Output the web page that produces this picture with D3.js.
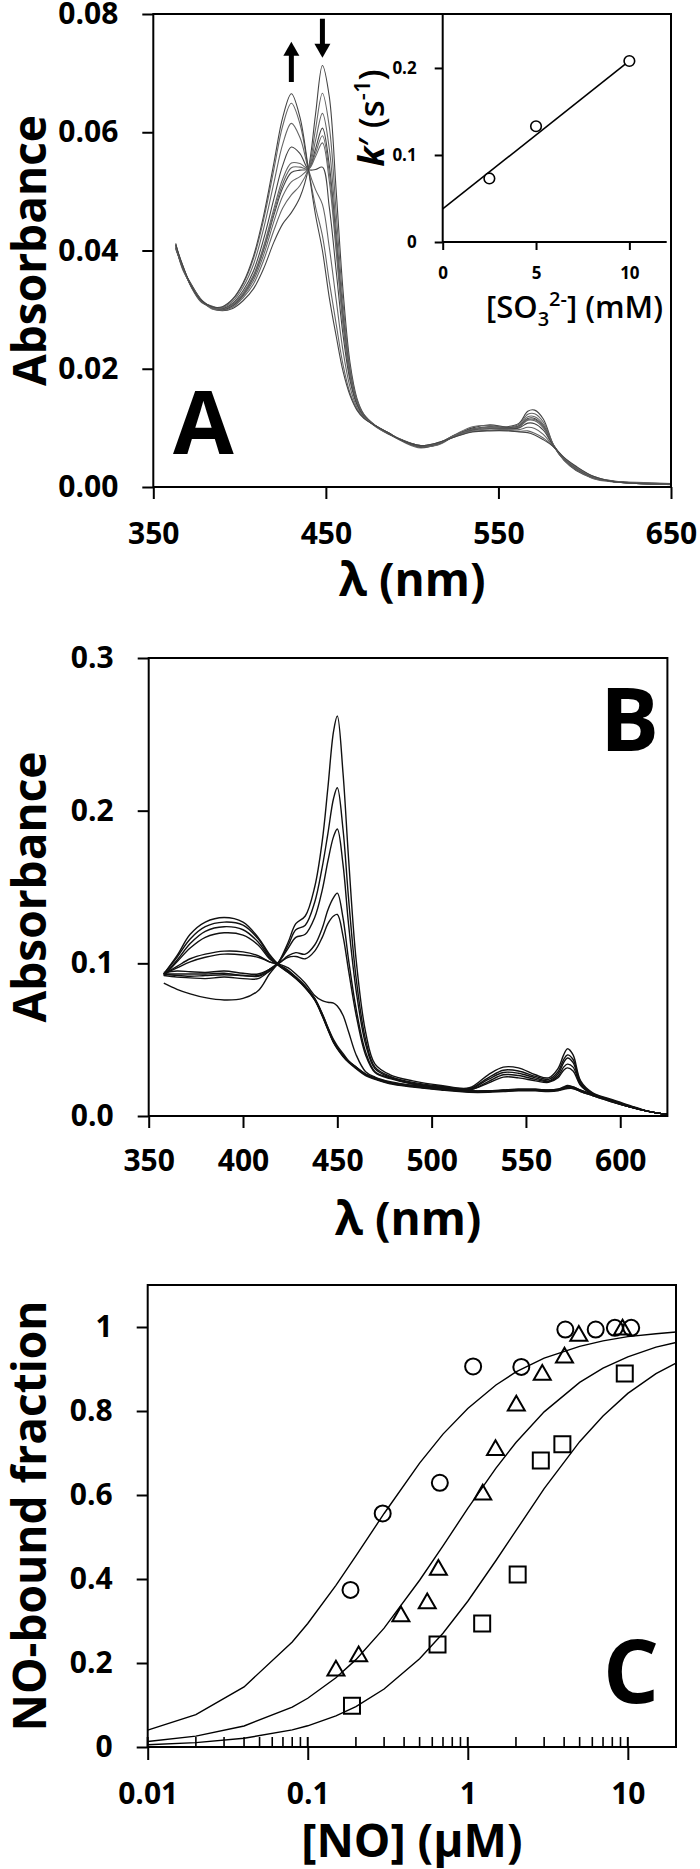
<!DOCTYPE html>
<html><head><meta charset="utf-8">
<script src="https://cdn.jsdelivr.net/npm/d3@7"></script>
<style>
body{margin:0;background:#fff;}
svg{display:block;font-family:"Open Sans",sans-serif;}
</style></head><body>
<svg id="c" width="700" height="1869"></svg>
<script>
// ---------- Panel A data (absorbance x 1000) ----------
const A_wavelength = [363,367,372,378,384,390,396,402,408,414,420,425,430,435,440,444,448,452,456,460,464,468,472,478,486,495,505,515,525,535,545,555,562,567,571,576,582,588,595,605,615,630,650];
const A_spec0 = [40.5,37,34,31.5,30.2,29.8,30.2,31.5,33.5,37,41.5,44.5,46.4,49,54,63,71.3,66,50,33,21,15,12.3,10.5,9,7.8,6.8,7.2,8.8,10,10.5,10.2,10.8,12.8,13,11.5,7,4.5,2.8,1.5,1,0.7,0.5];
const A_spec1 = [40.2,37.3,33.8,31.2,30.5,29.9,30.4,32,34.3,38.4,43.5,47.2,49.4,51,53.9,60.5,66.6,60.9,46.3,31,20.2,14.7,12.3,10.6,9.1,7.6,6.6,7.3,8.9,10.2,10.4,10.1,10.6,12.3,12.4,11,7.1,4.6,2.9,1.6,1.1,0.6,0.5];
const A_spec2 = [41,36.8,34.2,31.6,30.1,30,30.6,32.3,34.9,39.3,45,49.2,51.6,52.5,53.9,58.6,63.2,57.2,43.6,29.5,19.6,14.5,12.1,10.4,9,7.9,6.9,7.1,8.7,9.8,10.2,10,10.4,11.9,11.9,10.6,6.9,4.6,3,1.4,0.9,0.8,0.6];
const A_spec3 = [40.4,37.2,33.9,31.3,30.4,30,30.7,32.5,35.4,40.1,46.1,50.6,53.2,53.6,53.8,57.2,60.7,54.4,41.7,28.4,19.1,14.3,12.1,10.5,9.1,7.7,6.7,7.4,8.8,9.8,10.2,10,10.3,11.6,11.6,10.3,7,4.7,3,1.6,1,0.7,0.4];
const A_spec4 = [40.8,37,34.1,31.5,30.3,30.1,30.8,32.6,35.6,40.4,46.6,51.3,54,54.1,53.8,56.5,59.4,53.1,40.7,27.9,18.9,14.2,12,10.4,9,7.8,6.9,7.2,8.7,9.7,10.1,9.9,10.2,11.4,11.4,10.2,7,4.7,3.1,1.5,1,0.6,0.5];
const A_spec5 = [40.6,37.4,34,31.4,30.6,30.1,30.9,32.8,35.8,40.8,47.2,52.1,54.8,54.7,53.8,55.9,58.2,51.7,39.7,27.3,18.7,14.2,12,10.5,9.1,7.8,6.8,7.3,8.8,9.7,10.1,9.9,10.2,11.3,11.2,10,7,4.7,3.1,1.6,1,0.7,0.5];
const A_spec6 = [41.2,37.1,34.3,31.6,30.4,30.2,31.1,33.2,36.5,42,48.9,54.4,57.5,56.4,53.7,53.7,54.1,47.3,36.5,25.6,18,13.9,11.9,10.5,9.1,7.8,6.9,7.3,8.6,9.6,9.9,9.8,10,10.8,10.7,9.6,6.9,4.8,3.2,1.6,1,0.6,0.5];
const A_spec7 = [40.7,37.5,33.9,31.4,30.5,30.3,31.4,33.8,37.6,43.8,51.6,58,61.5,59.1,53.6,50.3,47.8,40.5,31.6,22.9,16.9,13.5,11.8,10.5,9.2,7.8,7,7.4,8.6,9.5,9.8,9.7,9.7,10.1,9.9,8.9,6.8,4.9,3.3,1.7,1,0.6,0.5];
const A_spec8 = [41,37.3,34.1,31.6,30.4,30.4,31.7,34.3,38.6,45.3,53.9,61.1,64.9,61.4,53.5,47.4,42.5,34.7,27.5,20.6,15.9,13.2,11.7,10.5,9.2,7.8,7,7.5,8.5,9.4,9.6,9.6,9.4,9.5,9.1,8.3,6.8,4.9,3.4,1.8,1,0.6,0.5];
const A_spec9 = [41,37.5,34,31.5,30.5,30.5,31.8,34.5,39,46,55,62.5,66.5,62.5,53.5,46,40,32,25.5,19.5,15.5,13,11.6,10.5,9.2,7.8,7,7.5,8.5,9.3,9.5,9.5,9.3,9.2,8.8,8,6.8,5,3.5,1.8,1,0.6,0.5];
const A_xTicks = [350,450,550,650];
const A_yTicks = [0,20,40,60,80];

// Inset
const inset_sulfite = [2.5,5,10];
const inset_k = [0.073,0.133,0.208];
const inset_fitX = [0,10];
const inset_fitY = [0.038,0.208];
const inset_xTicks = [0,5,10];
const inset_yTicks = [0,0.1,0.2];

// ---------- Panel B data (absorbance x 1000) ----------
const B_wavelength = [358,365,372,380,390,400,408,414,419,424,428,433,438,442,445,448,450,453,456,460,465,470,478,490,505,520,530,538,546,555,562,567,570,572,575,579,585,595,605,615,625];
const B_p1 = [87,83,80,77.5,76,77,82,93,101,114,126,131,150,180,215,252,262,225,168,102,55,34,27,23,20,18.5,27,32,31.5,27,25,31,40,44,40,23,15.5,11,7,3,1];
const B_p2 = [92,91,90.5,90,91,90,90,95,101,112,122,125,140,163,185,208,215,188,142,90,50,32,26,22,19.5,18,25,30,29.5,26,24,29,37,40,37,22,15,10.5,6.5,3,1];
const B_p3 = [93,93,93,93,93.5,92,92,96,101,110,117,119,130,148,167,183,188,165,125,82,47,31,25.5,21.5,19,17.5,24,28.5,28,25,23,27.5,35,38,35,21.5,15,10,6.5,3,1];
const B_p4 = [94,95,94.5,94,95,93.5,93,96,100,105,107,106,112,123,135,143,146,130,102,70,42,29,25,21,18.5,17,22.5,27,26.5,24,22.5,26,32,34,32,20.5,14.5,10,6,3,1];
const B_p5 = [93,92,91.5,92,92.5,92,91.5,95,100,104,104.5,103,108,117,126,131,132,118,95,66,40,28.5,24.5,21,18.5,17,21.5,25.5,25,23,22,25,30,31.5,29.5,20,14.5,10,6,3,1];
const B_n1 = [93,105,119,127,130,127,117,106,99,95,91,85,77,67,58,49,45,40,36,32,27.5,25,22,20,18,16.5,16.5,17,17.5,17.5,17,17.5,19,20,19,17,14.5,10.5,6.5,3,1];
const B_n2 = [93,104,116,124,127,125,116,105,99,94.5,90.5,84.5,76.5,66,57,48.5,44.5,39.5,35.5,31.5,27,24.5,21.5,19.5,17.5,16,16,16.5,17,17,16.5,17,18,19,18.5,16.5,14,10,6.5,3,1];
const B_n3 = [92,102,113,121,124,122,114,104,98.5,94,90,84,76,65.5,56.5,48,44,39,35,31,26.5,24,21,19,17,15.5,15.5,16,16.5,16.5,16,16.5,17.5,18,18,16,13.5,9.5,6,3,1];
const B_n4 = [92,101,110,117,120,118.5,112,103,98.5,94,90,84,76,66,57,48.5,44.5,39.5,35.5,31.5,27,24.5,21.5,19.5,17.5,16,16,16.5,17,17,16.5,17,18,18.5,18,16,13.5,9.5,6,3,1];
const B_n5 = [93,98,103,106,108,107.5,105,101,99.5,97,93,87,79,75.5,74.5,74,72,66,55,40,29,25.5,22.5,20,18,16.5,16.5,17,17.5,17.5,17,17.5,18.5,19.5,19,17,14,10,6,3,1];
const B_n6 = [93,97,101,104,106,105.5,104,101,99,95.5,91,85,77,67,58,50,46,41,36,32,27.5,24.5,21.5,19.5,17.5,16,16,16.5,17,17,16.5,17,18,19,18.5,16.5,14,10,6,3,1];
const B_xTicks = [350,400,450,500,550,600];
const B_yTicks = [0,100,200,300];

// ---------- Panel C data ----------
const C_circleX = [0.185,0.294,0.669,1.08,2.16,4.07,6.3,8.3,10.5];
const C_circleY = [0.374,0.556,0.629,0.906,0.905,0.994,0.994,0.998,0.998];
const C_triangleX = [0.15,0.208,0.382,0.558,0.655,1.24,1.49,2.01,2.92,4.02,4.94,9.27];
const C_triangleY = [0.182,0.216,0.311,0.342,0.422,0.601,0.707,0.813,0.886,0.927,0.979,0.994];
const C_squareX = [0.189,0.647,1.23,2.05,2.86,3.9,9.57];
const C_squareY = [0.098,0.244,0.294,0.411,0.682,0.721,0.889];
const C_fitX = [0.01,0.02,0.04,0.08,0.1,0.15,0.2,0.3,0.5,0.7,1,1.5,2,3,5,7,10,15,20];
const C_fitCircle = [0.040,0.077,0.143,0.25,0.294,0.385,0.455,0.556,0.676,0.745,0.806,0.862,0.893,0.926,0.954,0.967,0.977,0.984,0.988];
const C_fitTriangle = [0.013,0.026,0.05,0.095,0.116,0.165,0.208,0.283,0.397,0.479,0.568,0.664,0.725,0.798,0.868,0.902,0.929,0.952,0.963];
const C_fitSquare = [0.0053,0.0105,0.0208,0.0408,0.0505,0.074,0.096,0.138,0.21,0.271,0.347,0.444,0.515,0.615,0.727,0.788,0.842,0.889,0.914];
const C_xTicks = [0.01,0.1,1,10];
const C_yTicks = [0,0.2,0.4,0.6,0.8,1];

// ---------- drawing ----------
const svg = d3.select("#c");
const FONT_TICK = 30, FONT_TITLE = 46;

function styleAxis(g, fs){
  g.select(".domain").remove();
  g.selectAll("line").attr("stroke","#000").attr("stroke-width",2);
  g.selectAll("text").attr("font-size",fs).attr("font-weight",700).attr("fill","#000").attr("font-family","Open Sans");
}
function frame(x0,x1,y0,y1){
  svg.append("rect").attr("x",x0).attr("y",y0).attr("width",x1-x0).attr("height",y1-y0)
    .attr("fill","none").attr("stroke","#000").attr("stroke-width",2);
}
function title(txt,x,y,rot,fs){
  const t = svg.append("text").attr("font-size",fs||FONT_TITLE).attr("font-weight",700)
    .attr("text-anchor","middle").text(txt);
  if(rot) t.attr("transform",`translate(${x},${y}) rotate(-90)`); else t.attr("x",x).attr("y",y);
  return t;
}

// ===== Panel A =====
const xA = d3.scaleLinear([350,650],[153.3,671]);
const yA = d3.scaleLinear([0,80],[487,14]);
const A_specs = [A_spec0,A_spec1,A_spec2,A_spec3,A_spec4,A_spec5,A_spec6,A_spec7,A_spec8,A_spec9];
const lineA = d3.line().x(d=>xA(d[0])).y(d=>yA(d[1])).curve(d3.curveCatmullRom.alpha(0.5));
svg.append("g").selectAll("path").data(A_specs).join("path")
  .attr("d",s=>lineA(A_wavelength.map((w,i)=>[w,s[i]])))
  .attr("fill","none").attr("stroke",(d,i)=> i%3===0?"#444":"#666").attr("stroke-width",1.1);
frame(xA.range()[0],xA.range()[1],yA.range()[1],yA.range()[0]);
svg.append("g").attr("transform",`translate(0,${yA(0)})`)
  .call(d3.axisBottom(xA).tickValues(A_xTicks).tickSize(12).tickPadding(24).tickSizeOuter(0))
  .call(g=>styleAxis(g,FONT_TICK));
svg.append("g").attr("transform",`translate(${xA(350)},0)`)
  .call(d3.axisLeft(yA).tickValues(A_yTicks).tickSize(11).tickPadding(24).tickFormat(d=>(d/1000).toFixed(2)))
  .call(g=>styleAxis(g,FONT_TICK));
title("Absorbance",46,(yA(0)+yA(80))/2,true);
title("λ (nm)",(xA(350)+xA(650))/2,596,false);
svg.append("text").attr("x",173).attr("y",454).attr("font-size",88).attr("font-weight",700).text("A");

// arrows
function arrow(x,yTail,yTip){
  const dir = yTip<yTail?-1:1;
  svg.append("line").attr("x1",x).attr("x2",x).attr("y1",yTail).attr("y2",yTip-dir*12)
    .attr("stroke","#000").attr("stroke-width",5);
  svg.append("path").attr("d",`M${x-8},${yTip-dir*14}L${x+8},${yTip-dir*14}L${x},${yTip}Z`).attr("fill","#000");
}
arrow(xA(430),yA(68.5),yA(75.3));
arrow(xA(448),yA(79.2),yA(72.6));

// inset
const xI = d3.scaleLinear([0,12],[442.7,666.7]);
const yI = d3.scaleLinear([0,0.262],[242,14]);
svg.append("line").attr("x1",xI(0)).attr("x2",xI(0)).attr("y1",yI(0)).attr("y2",yI(0.262)).attr("stroke","#000").attr("stroke-width",2);
svg.append("line").attr("x1",xI(0)).attr("x2",xI(12)).attr("y1",yI(0)).attr("y2",yI(0)).attr("stroke","#000").attr("stroke-width",2);
svg.append("g").attr("transform",`translate(0,${yI(0)})`)
  .call(d3.axisBottom(xI).tickValues(inset_xTicks).tickSize(8).tickPadding(17))
  .call(g=>styleAxis(g,17));
svg.append("g").attr("transform",`translate(${xI(0)},0)`)
  .call(d3.axisLeft(yI).tickValues(inset_yTicks).tickSize(8).tickPadding(18).tickFormat(d=>d===0?"0":d.toFixed(1)))
  .call(g=>styleAxis(g,17));
svg.append("path").attr("d",d3.line().x((d,i)=>xI(d)).y((d,i)=>yI(inset_fitY[i]))(inset_fitX))
  .attr("stroke","#000").attr("stroke-width",1.6).attr("fill","none");
svg.append("g").selectAll("circle").data(inset_sulfite).join("circle")
  .attr("cx",d=>xI(d)).attr("cy",(d,i)=>yI(inset_k[i])).attr("r",5.3)
  .attr("fill","#fff").attr("stroke","#000").attr("stroke-width",1.6);
// inset titles
const itx = svg.append("text").attr("x",663).attr("y",318).attr("text-anchor","end").attr("font-size",31).attr("font-weight",600);
itx.append("tspan").text("[SO");
itx.append("tspan").attr("font-size",20).attr("dy",8).text("3");
itx.append("tspan").attr("font-size",20).attr("dy",-20).text("2-");
itx.append("tspan").attr("dy",12).text("] (mM)");
const ity = svg.append("text").attr("transform",`translate(384,${(yI(0)+yI(0.262))/2-10}) rotate(-90)`)
  .attr("text-anchor","middle").attr("font-size",35).attr("font-weight",600);
ity.append("tspan").attr("font-style","italic").attr("font-weight",700).text("k");
ity.append("tspan").text("′ (s");
ity.append("tspan").attr("font-size",22).attr("dy",-14).text("-1");
ity.append("tspan").attr("dy",14).text(")");

// ===== Panel B =====
const xB = d3.scaleLinear([350,625],[148.7,667.4]);
const yB = d3.scaleLinear([0,300],[1116,658]);
const B_specs = [B_n1,B_n2,B_n3,B_n4,B_n5,B_n6,B_p5,B_p4,B_p3,B_p2,B_p1];
const lineB = d3.line().x(d=>xB(d[0])).y(d=>yB(d[1])).curve(d3.curveCatmullRom.alpha(0.5));
svg.append("g").selectAll("path").data(B_specs).join("path")
  .attr("d",s=>lineB(B_wavelength.map((w,i)=>[w,s[i]])))
  .attr("fill","none").attr("stroke","#111").attr("stroke-width",1.4);
frame(xB.range()[0],xB.range()[1],yB.range()[1],yB.range()[0]);
svg.append("g").attr("transform",`translate(0,${yB(0)})`)
  .call(d3.axisBottom(xB).tickValues(B_xTicks).tickSize(12).tickPadding(22))
  .call(g=>styleAxis(g,FONT_TICK));
svg.append("g").attr("transform",`translate(${xB(350)},0)`)
  .call(d3.axisLeft(yB).tickValues(B_yTicks).tickSize(11).tickPadding(24).tickFormat(d=>(d/1000).toFixed(1)))
  .call(g=>styleAxis(g,FONT_TICK));
title("Absorbance",46,(yB(0)+yB(300))/2,true);
title("λ (nm)",(xB(350)+xB(625))/2,1235,false);
svg.append("text").attr("x",600).attr("y",751).attr("font-size",88).attr("font-weight",700).text("B");

// ===== Panel C =====
const xC = d3.scaleLog([0.01,20],[147.7,676]);
const yC = d3.scaleLinear([0,1.1],[1747,1285]);
const fitLine = d3.line().x((d,i)=>xC(C_fitX[i])).y(d=>yC(d));
[C_fitCircle,C_fitTriangle,C_fitSquare].forEach(f=>{
  svg.append("path").attr("d",fitLine(f)).attr("fill","none").attr("stroke","#000").attr("stroke-width",1.4);
});
frame(xC.range()[0],xC.range()[1],yC.range()[1],yC.range()[0]);
const minor = [];
[0.01,0.1,1,10].forEach(dec=>{ for(let k=2;k<=9;k++){ const v=dec*k; if(v<=20) minor.push(v);} });
svg.append("g").selectAll("line").data(minor).join("line")
  .attr("x1",d=>xC(d)).attr("x2",d=>xC(d)).attr("y1",yC(0)).attr("y2",yC(0)-10)
  .attr("stroke","#000").attr("stroke-width",1.6);
svg.append("g").selectAll("line").data(C_xTicks).join("line")
  .attr("x1",d=>xC(d)).attr("x2",d=>xC(d)).attr("y1",yC(0)-10).attr("y2",yC(0))
  .attr("stroke","#000").attr("stroke-width",2);
svg.append("g").attr("transform",`translate(0,${yC(0)})`)
  .call(d3.axisBottom(xC).tickValues(C_xTicks).tickSize(13).tickPadding(23).tickFormat(d=>String(d)))
  .call(g=>styleAxis(g,FONT_TICK));
svg.append("g").attr("transform",`translate(${xC(0.01)},0)`)
  .call(d3.axisLeft(yC).tickValues(C_yTicks).tickSize(11).tickPadding(24).tickFormat(d=>String(d)))
  .call(g=>styleAxis(g,FONT_TICK));
svg.append("g").selectAll("circle").data(C_circleX).join("circle")
  .attr("cx",d=>xC(d)).attr("cy",(d,i)=>yC(C_circleY[i])).attr("r",8)
  .attr("fill","none").attr("stroke","#000").attr("stroke-width",2);
svg.append("g").selectAll("path").data(C_triangleX).join("path")
  .attr("transform",(d,i)=>`translate(${xC(d)},${yC(C_triangleY[i])})`)
  .attr("d",d3.symbol(d3.symbolTriangle,125))
  .attr("fill","none").attr("stroke","#000").attr("stroke-width",2);
svg.append("g").selectAll("path").data(C_squareX).join("path")
  .attr("transform",(d,i)=>`translate(${xC(d)},${yC(C_squareY[i])})`)
  .attr("d",d3.symbol(d3.symbolSquare,256))
  .attr("fill","none").attr("stroke","#000").attr("stroke-width",2);
title("NO-bound fraction",46,(yC(0)+yC(1.1))/2,true);
title("[NO] (µM)",(xC(0.01)+xC(20))/2,1857,false);
svg.append("text").attr("x",603).attr("y",1703).attr("font-size",88).attr("font-weight",700).text("C");
</script>
</body></html>
